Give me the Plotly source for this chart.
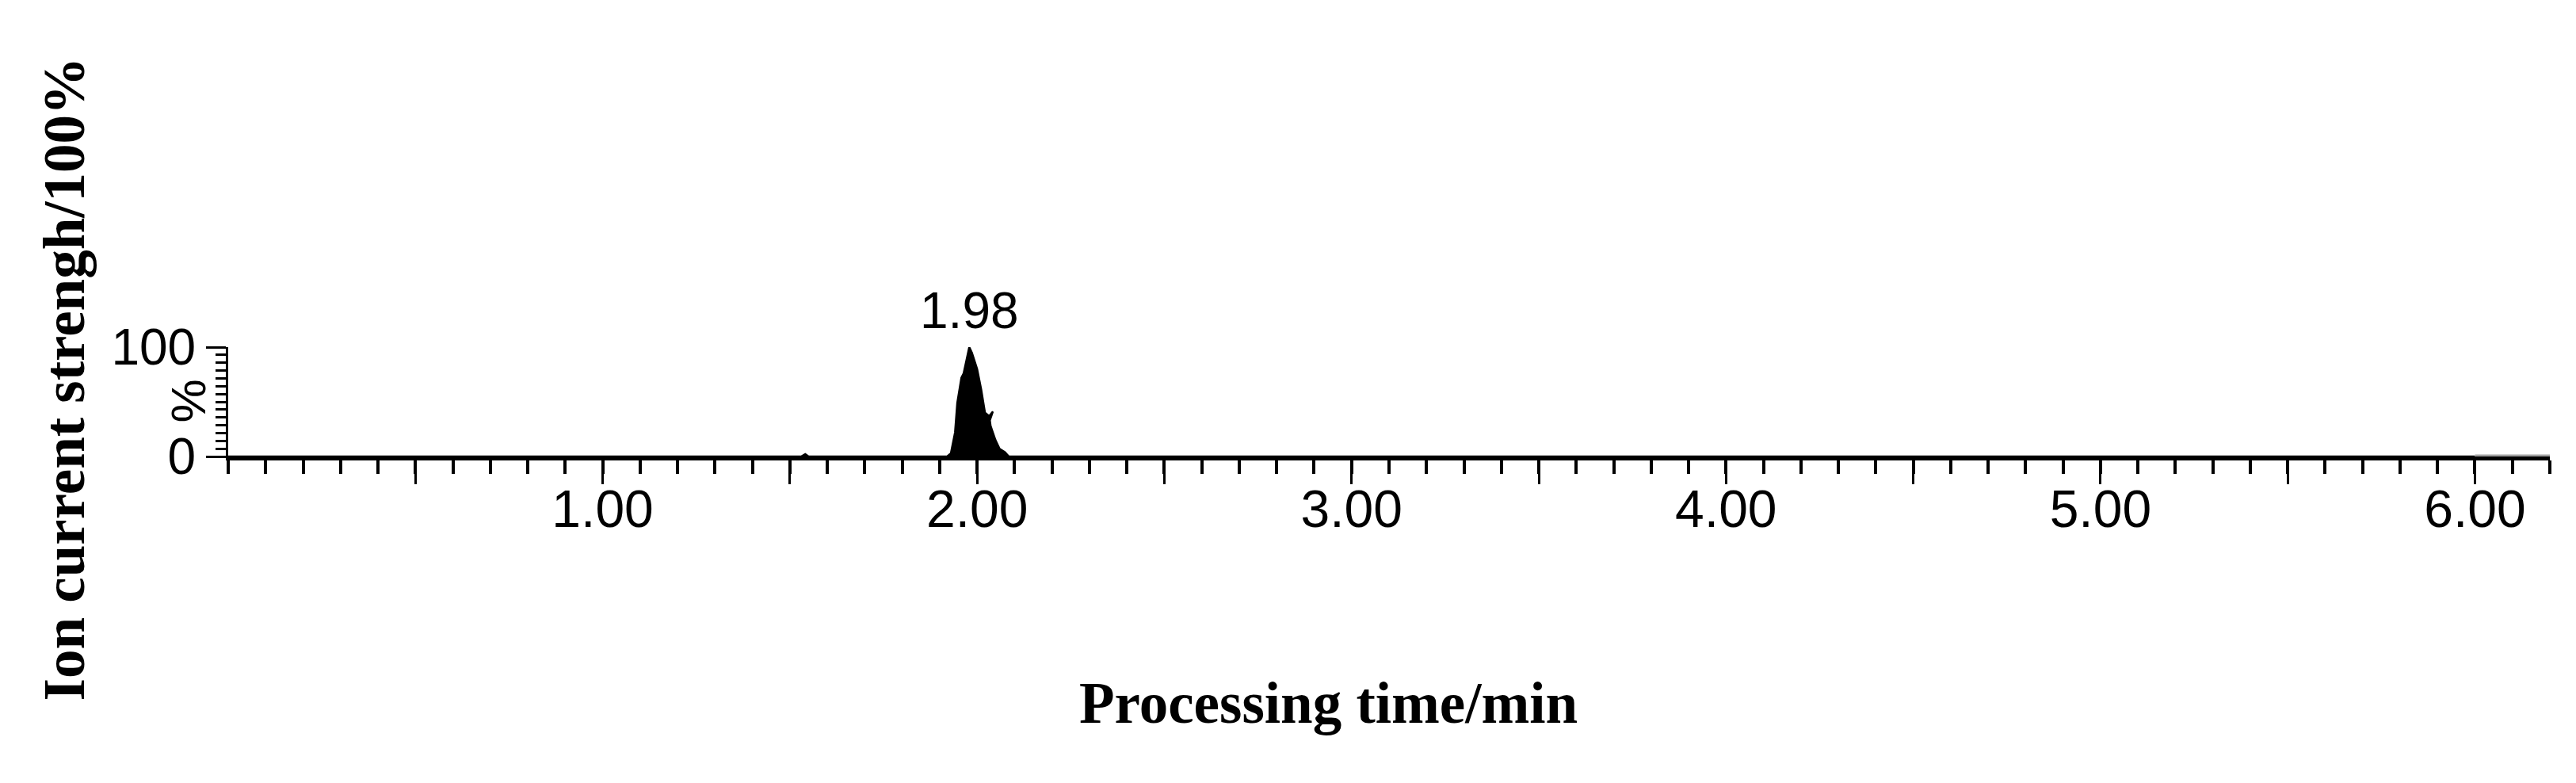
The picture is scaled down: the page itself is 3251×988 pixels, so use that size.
import plotly.graph_objects as go

# chromatogram trace: retention time (min) vs relative intensity (%)
time_min = [0.00, 1.50, 1.53, 1.541, 1.55, 1.58, 1.92, 1.930, 1.941, 1.947, 1.958, 1.964,
            1.979, 1.986, 2.000, 2.011, 2.021, 2.032, 2.042, 2.034, 2.036, 2.049,
            2.060, 2.074, 2.085, 2.10, 6.00]
intensity = [0, 0, 0, 2.2, 0, 0, 0, 3, 22, 49, 72, 76,
             100, 95, 80, 61, 40, 37, 41, 33, 28, 15,
             7, 4, 0, 0, 0]

peak_time = 1.98
peak_label = "1.98"
x_tickvals = [0.5, 1.0, 1.5, 2.0, 2.5, 3.0, 3.5, 4.0, 4.5, 5.0, 5.5, 6.0]
x_ticktext = ["", "1.00", "", "2.00", "", "3.00", "", "4.00", "", "5.00", "", "6.00"]
y_tickvals = [0, 100]
y_ticktext = ["0", "100"]

SANS = "Liberation Sans, Arial, sans-serif"
SERIF = "Liberation Serif, Times New Roman, serif"

fig = go.Figure()
fig.add_scatter(x=time_min, y=intensity, mode="lines", fill="tozeroy",
                line=dict(color="black", width=2.5), fillcolor="black",
                hoverinfo="skip", showlegend=False)

fig.add_annotation(x=peak_time, y=100, text=peak_label, showarrow=False,
                   yanchor="bottom", yshift=8, font=dict(family=SANS, size=64, color="black"))
# rotated unit label next to the y axis
fig.add_annotation(xref="paper", yref="paper", x=-0.0171, y=0.51, text="%", textangle=-90,
                   xanchor="center", yanchor="middle", showarrow=False,
                   font=dict(family=SANS, size=62, color="black"))
fig.add_annotation(xref="paper", yref="paper", x=-0.0705, y=0.71, text="Ion current strengh/100%",
                   textangle=-90, xanchor="center", yanchor="middle", showarrow=False,
                   font=dict(family=SERIF, size=73, color="black", weight="bold"))
fig.add_annotation(xref="paper", yref="paper", x=0.474, y=-2.254, text="Processing time/min",
                   xanchor="center", yanchor="middle", showarrow=False,
                   font=dict(family=SERIF, size=73, color="black", weight="bold"))

# axis runs on past 6.00 in grey
fig.add_shape(type="line", x0=6.0, x1=6.2, y0=0, y1=0, layer="above",
              line=dict(color="#a0a0a0", width=5))

fig.update_layout(
    width=3251, height=988, plot_bgcolor="white", paper_bgcolor="white",
    margin=dict(l=280, r=41, t=430, b=420),
)
fig.update_xaxes(range=[0, 6.2], showgrid=False, zeroline=False,
                 showline=True, linecolor="black", linewidth=5,
                 ticks="outside", tickvals=x_tickvals, ticktext=x_ticktext,
                 ticklen=30, tickwidth=3, tickcolor="black", ticklabelstandoff=-25,
                 tickfont=dict(family=SANS, size=66, color="black"),
                 minor=dict(dtick=0.1, ticks="outside", ticklen=17, tickwidth=4, tickcolor="black"))
fig.update_yaxes(range=[0, 100], showgrid=False, zeroline=False,
                 showline=True, linecolor="black", linewidth=3,
                 ticks="outside", tickvals=y_tickvals, ticktext=y_ticktext,
                 ticklen=25, tickwidth=3, tickcolor="black",
                 tickfont=dict(family=SANS, size=64, color="black"),
                 minor=dict(dtick=100 / 14, ticks="outside", ticklen=13, tickwidth=3, tickcolor="black"))

fig.write_html("out.html")
